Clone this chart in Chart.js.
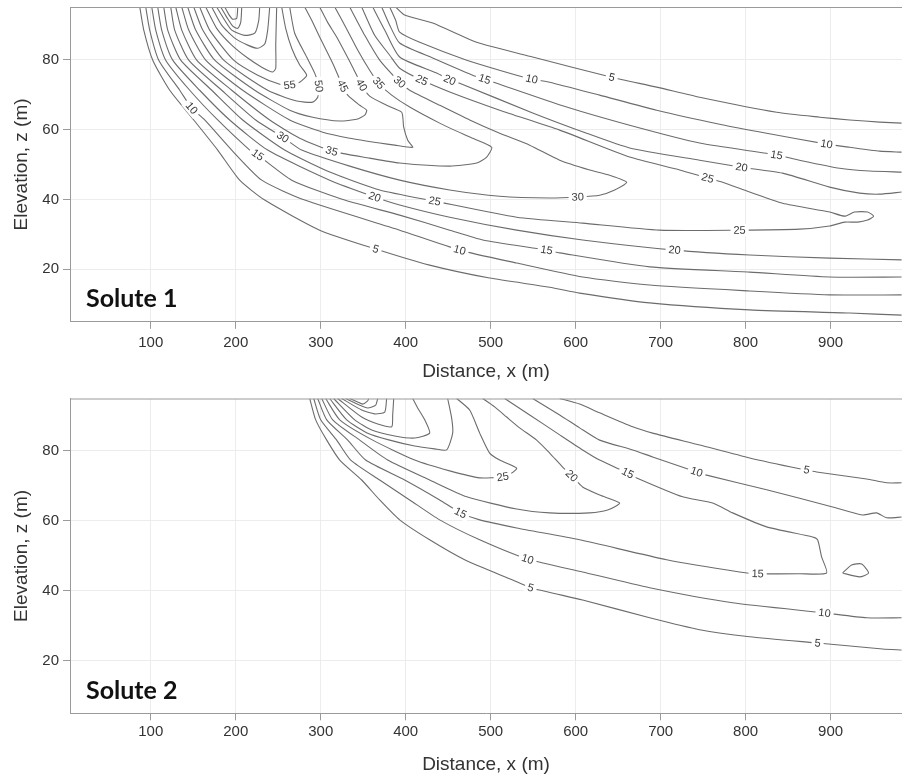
<!DOCTYPE html>
<html>
<head>
<meta charset="utf-8">
<title>Solute plumes</title>
<script src="https://cdn.jsdelivr.net/npm/chart.js@4.4.1/dist/chart.umd.min.js"></script>
<style>
html, body { margin: 0; padding: 0; background: #fff; }
.panel { position: absolute; left: 0; width: 902px; height: 390px; }
</style>
</head>
<body>
<div class="panel" style="top:0"><canvas id="solute1" width="902" height="390"></canvas></div>
<div class="panel" style="top:390px"><canvas id="solute2" width="902" height="390"></canvas></div>
<script>
// axes
const xTicks = [100, 200, 300, 400, 500, 600, 700, 800, 900];
const yTicks = [20, 40, 60, 80];
const xRange = [5, 984];
const zRange = [5, 95];

// Solute 1 contour lines, [x (m), z (m)]
const s1c05lo = [[87.1,95],[91.8,88.4],[102.4,79.8],[122.4,71.2],[150.6,62.7],[178.8,54.1],[204.7,45.5],[234.1,39.8],[298.8,31.2],[364.7,25.8],[428.2,21.2],[498.8,17.5],[569.4,14.9],[604.7,13.2],[687.1,10.4],[804.7,8.4],[922.4,7.5],[983.5,6.9]];
const s1c05up = [[388.2,95],[398.8,92.7],[431.8,90.4],[483.5,84.9],[549.4,80.7],[642.4,74.9],[695.3,72.1],[745.9,69.2],[836.5,64.9],[887.1,63.5],[922.4,62.7],[957.6,62.1],[983.5,61.8]];
const s1c10lo = [[94.1,95],[98.8,88.4],[109.4,79.8],[134.1,71.2],[148.2,66.1],[163.5,62.7],[195.3,54.1],[230.6,45.5],[281.2,39.8],[392.9,31.2],[463.5,25.5],[530.6,21.8],[608.2,17.8],[687.1,15.5],[804.7,13.8],[898.8,12.7],[983.5,12.7]];
const s1c10up = [[381.2,95],[388.2,91.2],[392.9,87.8],[416.5,84.9],[471.8,79.8],[530.6,75.5],[548.2,74.4],[569.4,73.5],[628.2,69.8],[695.3,65.5],[769.4,61.5],[824.7,58.9],[895.3,55.8],[922.4,54.9],[957.6,53.8],[983.5,53.5]];
const s1c15lo = [[101.2,95],[105.9,88.4],[117.6,79.8],[145.9,71.2],[178.8,62.7],[216.5,54.1],[225.9,52.7],[265.9,45.5],[328.2,39.8],[392.9,35.5],[451.8,31.2],[490.6,28.4],[565.9,25.5],[581.2,24.7],[687.1,20.7],[804.7,19.2],[898.8,17.8],[983.5,17.8]];
const s1c15up = [[371.8,95],[381.2,89.8],[392.9,84.7],[431.8,80.4],[478.8,75.5],[492.9,74.4],[507.1,73.2],[589.4,66.4],[663.5,61.2],[745.9,56.1],[836.5,52.7],[863.5,51.2],[910.6,48.9],[945.9,48.1],[983.5,47.8]];
const s1c20lo = [[108.2,95],[112.9,88.4],[125.9,79.8],[157.6,71.2],[192.9,62.7],[237.6,54.1],[310.6,45.5],[363.5,40.7],[392.9,38.4],[451.8,34.9],[530.6,31.2],[608.2,28.4],[716.5,25.5],[804.7,24.1],[898.8,23.2],[983.5,22.7]];
const s1c20up = [[361.2,95],[375.3,88.4],[392.9,80.7],[436.5,76.1],[451.8,74.1],[463.5,73.2],[549.4,64.7],[612.9,58.9],[663.5,54.7],[745.9,51.2],[795.3,49.2],[843.5,47.5],[898.8,43.5],[934.1,41.8],[957.6,41.5],[983.5,42.1]];
const s1c25 = [[115.3,95],[120,88.4],[135.3,79.8],[171.8,71.2],[208.2,62.7],[257.6,54.1],[310.6,47.8],[369.4,42.7],[434.1,39.5],[530.6,34.9],[608.2,33.2],[698.8,31.2],[792.9,31.2],[863.5,31.5],[898.8,32.4],[916.5,33.5],[931.8,33.5],[943.5,34.1],[950.6,35.2],[943.5,36.4],[928.2,36.4],[916.5,35.2],[898.8,36.4],[843.5,38.9],[804.7,42.1],[772.9,44.9],[755.3,46.1],[722.4,48.4],[663.5,52.1],[581.2,59.8],[510.6,65.5],[451.8,70.7],[418.8,74.1],[392.9,77.5],[381.2,81.2],[363.5,86.9],[348.2,95]];
const s1c30 = [[123.5,95],[128.2,88.4],[144.7,79.8],[183.5,71.2],[223.5,62.7],[255.3,57.8],[277.6,54.1],[334.1,49.5],[392.9,45.5],[451.8,42.7],[510.6,40.9],[569.4,40.4],[602.4,40.7],[628.2,41.2],[645.9,42.7],[660,44.9],[640,46.9],[616.5,48.4],[581.2,51.2],[545.9,55.5],[510.6,58.9],[475.3,62.7],[440,66.9],[404.7,71.2],[392.9,73.5],[387.1,74.9],[369.4,79.8],[351.8,86.9],[334.1,95]];
const s1c35 = [[129.4,95],[136.5,88.4],[154.1,79.8],[195.3,71.2],[240,62.7],[275.3,57.5],[312.9,53.8],[357.6,51.8],[392.9,50.4],[451.8,49.5],[483.5,50.4],[495.3,52.1],[501.2,54.9],[475.3,57.8],[440,61.8],[404.7,66.4],[383.5,69.8],[368.2,73.2],[357.6,76.9],[343.5,82.7],[328.2,89.8],[316.5,95]];
const s1c40 = [[136.5,95],[144.7,88.4],[164.7,79.8],[208.2,71.2],[263.5,62.7],[302.4,59.2],[334.1,57.5],[369.4,56.1],[387.1,55.5],[408.2,54.9],[402.4,56.9],[397.6,60.7],[395.3,64.9],[377.6,66.9],[357.6,69.5],[348.2,72.7],[337.6,77.8],[318.8,86.4],[308.2,90.6],[298.8,95]];
const s1c45 = [[143.5,95],[152.9,88.4],[175.3,79.8],[222.4,71.2],[263.5,65.5],[290.6,63.5],[322.4,62.4],[342.4,62.9],[351.8,64.1],[354.1,65.5],[345.9,66.9],[331.8,69.8],[325.9,72.4],[314.1,78.9],[298.8,86.4],[289.4,91.2],[281.2,95]];
const s1c50 = [[150.6,95],[161.2,88.4],[185.9,79.8],[237.6,71.2],[271.8,68.1],[290.6,67.8],[296.5,69.2],[297.6,72.4],[292.9,76.1],[283.5,80.7],[269.4,87.5],[263.5,95]];
const s1c55 = [[157.6,95],[169.4,88.4],[197.6,79.8],[225.9,75.5],[251.8,72.9],[263.5,72.7],[275.3,73.5],[283.5,75.5],[275.3,78.4],[265.9,83.2],[258.8,88.9],[254.1,95]];
const s1c60 = [[164.7,95],[177.6,88.9],[195.3,84.1],[214.1,80.4],[230.6,77.8],[243.5,76.4],[247.1,77.5],[247.1,84.1],[248.2,95]];
const s1c65 = [[171.8,95],[183.5,89.8],[198.8,86.1],[214.1,84.1],[225.9,83.2],[234.1,84.4],[237.6,88.4],[240,95]];
const s1c70 = [[177.6,95],[187.1,91.2],[195.3,88.4],[210.6,86.9],[222.4,87.5],[227.1,91.2],[228.2,95]];
const s1c75 = [[182.4,95],[189.4,92.1],[196.5,89.5],[202.4,88.9],[205.9,90.6],[207.1,95]];
const s1c80 = [[187.1,95],[191.8,92.9],[196.5,91.5],[201.2,91.8],[202.4,95]];

// Solute 2 contour lines, [x (m), z (m)]
const s2c05lo = [[287.1,95],[294.1,88.9],[307.1,83.1],[322.4,77.4],[348.2,71.7],[369.4,66],[392.9,60.3],[428.2,54.6],[469.4,48.9],[525.9,43.1],[547.1,40.9],[608.2,37.4],[687.1,32.3],[745.9,28.9],[804.7,26.9],[884.7,25.1],[961.2,23.4],[983.5,23.1]];
const s2c05up = [[581.2,95],[604.7,93.4],[628.2,90.9],[667.1,86.9],[690.6,85.1],[745.9,81.7],[804.7,78],[863.5,74.9],[871.8,74.6],[883.5,74],[942.4,72],[965.9,70.9],[983.5,70.9]];
const s2c10lo = [[291.8,95],[300,88.9],[318.8,83.1],[335.3,77.4],[369.4,71.7],[404.7,66],[440,60.3],[487.1,54.6],[543.5,49.1],[608.2,45.4],[687.1,40.9],[784.7,36.6],[892.9,33.7],[942.4,32.3],[983.5,32.3]];
const s2c10up = [[549.4,95],[581.2,90.3],[604.7,86.6],[628.2,83.1],[667.1,80.3],[690.6,78.3],[742.4,74],[754.1,73.1],[824.7,68.9],[902.4,64],[937.6,61.7],[954.1,62.3],[965.9,60.9],[983.5,61.1]];
const s2c15 = [[296.5,95],[307.1,88.9],[331.8,83.1],[352.9,77.4],[398.8,71.7],[440,66],[464.7,62.3],[487.1,60.3],[530.6,58],[604.7,54.6],[707.1,48.9],[792.9,45.4],[814.1,44.9],[863.5,44.9],[895.3,45.1],[889.4,49.7],[884.7,54.6],[878.8,55.4],[824.7,58.3],[784.7,62.3],[761.2,65.1],[725.9,66.9],[671.8,72.3],[661.2,73.7],[628.2,77.4],[608.2,80.3],[581.2,84.6],[545.9,90.3],[516.5,95]];
const s2c15pocket = [[914.1,45.1],[924.7,47.4],[936.5,47.7],[944.7,45.1],[934.1,44],[914.1,45.1]];
const s2c20 = [[301.2,95],[314.1,88.9],[345.9,83.1],[378.8,77.4],[428.2,71.7],[471.8,66.9],[530.6,63.4],[569.4,62.3],[616.5,62.3],[637.6,63.1],[651.8,65.1],[628.2,67.4],[608.2,69.7],[595.3,72.9],[584.7,75.4],[569.4,79.4],[554.1,83.1],[534.1,86.6],[518.8,89.7],[504.7,92.6],[490.6,95]];
const s2c25 = [[305.9,95],[322.4,88.9],[361.2,83.1],[410.6,77.4],[451.8,74.3],[487.1,72.3],[514.1,72.6],[524.7,73.7],[530.6,75.1],[510.6,77.4],[498.8,79.4],[487.1,85.1],[475.3,91.7],[460,95]];
const s2c30 = [[310.6,95],[330.6,88.9],[355.3,85.1],[381.2,83.1],[410.6,81.4],[434.1,80.6],[448.2,80.3],[455.3,85.1],[454.1,89.4],[449.4,95]];
const s2c35 = [[315.3,95],[340,88.9],[360,86],[387.1,84.3],[410.6,83.7],[428.2,85.1],[422.4,88.9],[414.1,92.3],[408.2,95]];
const s2c40 = [[320,95],[348.2,89.7],[367.1,87.7],[383.5,86.9],[384.7,90.3],[385.9,95]];
const s2c45 = [[324.7,95],[348.2,91.7],[363.5,90.6],[375.3,91.1],[377.6,95]];
const s2c50 = [[329.4,95],[345.9,93.1],[355.3,92.3],[364.7,93.1],[367.1,95]];
const s2c55 = [[334.1,95],[343.5,94],[349.4,93.4],[355.3,94.3],[356.5,95]];

// [level, line]
const solute1Lines = [
  [5, s1c05lo], [5, s1c05up], [10, s1c10lo], [10, s1c10up], [15, s1c15lo], [15, s1c15up],
  [20, s1c20lo], [20, s1c20up], [25, s1c25], [30, s1c30], [35, s1c35], [40, s1c40],
  [45, s1c45], [50, s1c50], [55, s1c55], [60, s1c60], [65, s1c65], [70, s1c70], [75, s1c75], [80, s1c80]
];
const solute2Lines = [
  [5, s2c05lo], [5, s2c05up], [10, s2c10lo], [10, s2c10up], [15, s2c15], [15, s2c15pocket],
  [20, s2c20], [25, s2c25], [30, s2c30], [35, s2c35], [40, s2c40], [45, s2c45], [50, s2c50], [55, s2c55]
];

// inline labels [x, z, level]
const solute1Labels = [
  [263.5,72.7,55],[297.6,72.4,50],[325.9,72.4,45],[348.2,72.7,40],[368.2,73.2,35],[392.9,73.5,30],
  [418.8,74.1,25],[451.8,74.1,20],[492.9,74.4,15],[548.2,74.4,10],[642.4,74.9,5],
  [895.3,55.8,10],[836.5,52.7,15],[795.3,49.2,20],[755.3,46.1,25],
  [148.2,66.1,10],[225.9,52.7,15],[255.3,57.8,30],[312.9,53.8,35],
  [363.5,40.7,20],[434.1,39.5,25],[602.4,40.7,30],
  [364.7,25.8,5],[463.5,25.5,10],[565.9,25.5,15],[716.5,25.5,20],[792.9,31.2,25]
];
const solute2Labels = [
  [514.1,72.6,25],[595.3,72.9,20],[661.2,73.7,15],[742.4,74,10],[871.8,74.6,5],
  [464.7,62.3,15],[543.5,49.1,10],[547.1,40.9,5],
  [814.1,44.9,15],[892.9,33.7,10],[884.7,25.1,5]
];

const FONT = "'Liberation Sans', Arial, Helvetica, sans-serif";
Chart.defaults.font.family = FONT;
Chart.defaults.color = '#333';

function contourDatasets(lines) {
  return lines.map(([level, pts]) => ({
    label: 'C = ' + level,
    data: pts.map(([x, z]) => ({x: x, y: z})),
    showLine: true,
    borderColor: '#6c6c6c',
    borderWidth: 1.1,
    pointRadius: 0,
    pointHoverRadius: 0,
    tension: 0.2,
    fill: false
  }));
}

// level numbers written along the lines, turned to follow them
function labelPlugin(lines, labels) {
  return {
    id: 'contourLabels',
    afterDatasetsDraw(chart) {
      const {ctx, scales: {x, y}} = chart;
      const px = p => x.getPixelForValue(p[0]);
      const py = p => y.getPixelForValue(p[1]);
      ctx.save();
      ctx.font = '11px ' + FONT;
      ctx.textAlign = 'center';
      ctx.textBaseline = 'middle';
      labels.forEach(lab => {
        const level = lab[2];
        const lx = px(lab), ly = py(lab);
        let best = null, bestD = Infinity;
        lines.forEach(([lev, pts]) => {
          if (lev !== level) return;
          pts.forEach((p, i) => {
            const d = Math.hypot(px(p) - lx, py(p) - ly);
            if (d < bestD) { bestD = d; best = {pts, i}; }
          });
        });
        let ang = 0;
        if (best) {
          const a = best.pts[Math.max(best.i - 1, 0)];
          const b = best.pts[Math.min(best.i + 1, best.pts.length - 1)];
          ang = Math.atan2(py(b) - py(a), px(b) - px(a));
          if (ang > Math.PI / 2) ang -= Math.PI;
          if (ang < -Math.PI / 2) ang += Math.PI;
        }
        const txt = String(level);
        const w = ctx.measureText(txt).width;
        ctx.save();
        ctx.translate(lx, ly);
        ctx.rotate(ang);
        ctx.fillStyle = '#fff';
        ctx.fillRect(-w / 2 - 3, -6, w + 6, 12);
        ctx.fillStyle = '#3a3a3a';
        ctx.fillText(txt, 0, 0.5);
        ctx.restore();
      });
      ctx.restore();
    }
  };
}

// top edge of the plot box and the panel name
function framePlugin(name) {
  return {
    id: 'panelFrame',
    afterDraw(chart) {
      const {ctx, chartArea: {left, right, top, bottom}} = chart;
      ctx.save();
      ctx.strokeStyle = '#9a9a9a';
      ctx.lineWidth = 1;
      ctx.beginPath();
      ctx.moveTo(left, top + 0.5);
      ctx.lineTo(right, top + 0.5);
      ctx.stroke();
      ctx.font = "bold 25px Lato, 'Open Sans', sans-serif";
      ctx.fillStyle = '#111';
      ctx.textAlign = 'left';
      ctx.textBaseline = 'alphabetic';
      ctx.fillText(name, left + 16, bottom - 14.5);
      ctx.restore();
    }
  };
}

function makePanel(id, lines, labels, name, frame) {
  return new Chart(id, {
    type: 'scatter',
    data: { datasets: contourDatasets(lines) },
    options: {
      responsive: false,
      animation: false,
      events: [],
      layout: { padding: { top: frame.top, left: 0, right: 0, bottom: 0 } },
      plugins: { legend: { display: false }, tooltip: { enabled: false } },
      scales: {
        x: {
          type: 'linear',
          min: xRange[0],
          max: xRange[1],
          afterBuildTicks: s => { s.ticks = xTicks.map(v => ({ value: v })); },
          afterFit: s => { s.height = frame.axisHeight; s.paddingLeft = 0; s.paddingRight = 0; },
          grid: { color: '#ececec', tickColor: '#9a9a9a', tickLength: 7 },
          border: { color: '#9a9a9a' },
          ticks: { color: '#333', font: { size: 15 }, padding: frame.tickPad, maxRotation: 0 },
          title: { display: true, text: 'Distance, x (m)', color: '#333', font: { size: 19 }, padding: { top: 0, bottom: frame.titlePad } }
        },
        y: {
          type: 'linear',
          min: zRange[0],
          max: zRange[1],
          afterBuildTicks: s => { s.ticks = yTicks.map(v => ({ value: v })); },
          afterFit: s => { s.width = 70; s.paddingTop = 0; s.paddingBottom = 0; },
          grid: { color: '#ececec', tickColor: '#9a9a9a', tickLength: 7 },
          border: { color: '#9a9a9a' },
          ticks: { color: '#333', font: { size: 15 }, padding: 4 },
          title: { display: true, text: 'Elevation, z (m)', color: '#333', font: { size: 19 }, padding: { top: 10, bottom: 0 } }
        }
      }
    },
    plugins: [labelPlugin(lines, labels), framePlugin(name)]
  });
}

makePanel('solute1', solute1Lines, solute1Labels, 'Solute 1', { top: 7, axisHeight: 68.2, tickPad: 5, titlePad: 7 });
makePanel('solute2', solute2Lines, solute2Labels, 'Solute 2', { top: 8.5, axisHeight: 66.7, tickPad: 3, titlePad: 4 });
</script>
</body>
</html>
